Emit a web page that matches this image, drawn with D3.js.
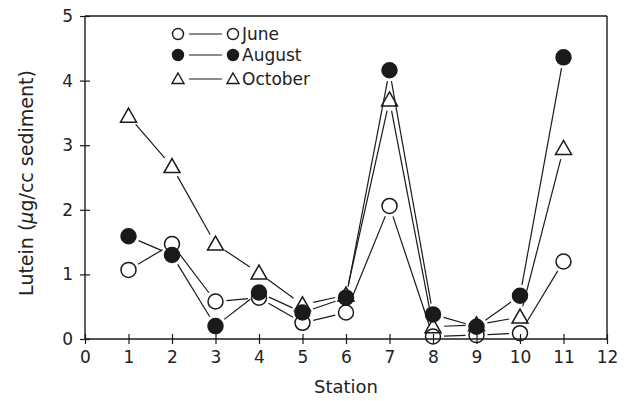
<!DOCTYPE html>
<html><head><meta charset="utf-8">
<script src="https://cdn.jsdelivr.net/npm/d3@7"></script>
<style>body{margin:0;background:#fff}svg{display:block}text{font-family:"DejaVu Sans",sans-serif;fill:#222}</style>
</head><body><svg id="c" width="634" height="401"></svg>
<script>
const stations = [1,2,3,4,5,6,7,8,9,10,11];
const june    = [1.07,1.47,0.58,0.64,0.25,0.41,2.06,0.04,0.06,0.09,1.20];
const august  = [1.59,1.30,0.20,0.72,0.41,0.64,4.16,0.38,0.19,0.67,4.36];
const october = [3.45,2.67,1.47,1.02,0.53,0.68,3.70,0.19,0.22,0.34,2.95];
const xTicks = [0,1,2,3,4,5,6,7,8,9,10,11,12];
const yTicks = [0,1,2,3,4,5];
const seriesNames = ["June","August","October"];

const svg = d3.select("#c");
const x = d3.scaleLinear().domain([0,12]).range([85,607]);
const y = d3.scaleLinear().domain([0,5]).range([339,16]);
const ink = "#1a1a1a";

// frame
svg.append("line").attr("x1",x(0)).attr("x2",x(12)).attr("y1",y(5)).attr("y2",y(5)).attr("stroke",ink).attr("stroke-width",1.4);
svg.append("line").attr("x1",x(12)).attr("x2",x(12)).attr("y1",y(5)).attr("y2",y(0)).attr("stroke",ink).attr("stroke-width",1.4);

const xAxis = svg.append("g").attr("transform",`translate(0,${y(0)})`)
  .call(d3.axisBottom(x).tickValues(xTicks).tickFormat(d3.format("d")).tickSize(5).tickSizeOuter(0));
xAxis.selectAll(".tick line").attr("stroke",ink).attr("y1",-5).attr("y2",5).attr("stroke-width",1.2);
xAxis.selectAll(".tick text").attr("y",12).attr("dy","0.71em").style("font-size","17px").attr("fill",ink);

const yAxis = svg.append("g").attr("transform",`translate(${x(0)},0)`)
  .call(d3.axisLeft(y).tickValues(yTicks).tickFormat(d3.format("d")).tickSize(5).tickSizeOuter(0));
yAxis.selectAll(".tick line").attr("stroke",ink).attr("x1",-5).attr("x2",5).attr("stroke-width",1.2);
yAxis.selectAll(".tick text").attr("x",-12).style("font-size","17px").attr("fill",ink);
svg.selectAll(".domain").remove();
svg.append("line").attr("x1",x(0)).attr("x2",x(12)).attr("y1",y(0)).attr("y2",y(0)).attr("stroke",ink).attr("stroke-width",1.4);
svg.append("line").attr("x1",x(0)).attr("x2",x(0)).attr("y1",y(0)).attr("y2",y(5)).attr("stroke",ink).attr("stroke-width",1.4);

svg.append("text").attr("x",346).attr("y",393).attr("text-anchor","middle").style("font-size","18px").text("Station");
const yl = svg.append("text").attr("transform","translate(33,183) rotate(-90)").attr("text-anchor","middle").style("font-size","19px");
yl.append("tspan").text("Lutein (");
yl.append("tspan").style("font-style","italic").text("μ");
yl.append("tspan").text("g/cc sediment)");

const R = 8;
function triPath(r){ const h=r*1.0; return `M0,${-h} L${r},${h*0.75} L${-r},${h*0.75} Z`; }

function drawSeries(vals, kind){
  const pts = stations.map((s,i)=>[x(s), y(vals[i])]);
  const g = svg.append("g");
  const gap = 11;
  for(let i=0;i<pts.length-1;i++){
    const [x1,y1]=pts[i],[x2,y2]=pts[i+1];
    const dx=x2-x1, dy=y2-y1, L=Math.hypot(dx,dy);
    if(L<=2*gap) continue;
    const ux=dx/L, uy=dy/L;
    g.append("line").attr("x1",x1+ux*gap).attr("y1",y1+uy*gap).attr("x2",x2-ux*gap).attr("y2",y2-uy*gap)
      .attr("stroke",ink).attr("stroke-width",1.2);
  }
  pts.forEach(p=>{
    if(kind==="tri") g.append("path").attr("d",triPath(R)).attr("transform",`translate(${p[0]},${p[1]})`).attr("fill","none").attr("stroke",ink).attr("stroke-width",1.5);
    else g.append("circle").attr("cx",p[0]).attr("cy",p[1]).attr("r",R-0.5).attr("fill",kind==="filled"?ink:"none").attr("stroke",ink).attr("stroke-width",1.5);
  });
}
drawSeries(october,"tri");
drawSeries(june,"open");
drawSeries(august,"filled");

// legend
const legRows = [{n:seriesNames[0],k:"open",y:34},{n:seriesNames[1],k:"filled",y:55},{n:seriesNames[2],k:"tri",y:79}];
const lr = 5.5;
legRows.forEach(r=>{
  [178,233].forEach(cx=>{
    if(r.k==="tri") svg.append("path").attr("d",triPath(lr+0.5)).attr("transform",`translate(${cx},${r.y})`).attr("fill","none").attr("stroke",ink).attr("stroke-width",1.4);
    else svg.append("circle").attr("cx",cx).attr("cy",r.y).attr("r",lr).attr("fill",r.k==="filled"?ink:"none").attr("stroke",ink).attr("stroke-width",1.4);
  });
  svg.append("line").attr("x1",189).attr("x2",222).attr("y1",r.y).attr("y2",r.y).attr("stroke",ink).attr("stroke-width",1.2);
  svg.append("text").attr("x",242).attr("y",r.y).attr("dy","0.36em").style("font-size","17px").text(r.n);
});
</script></body></html>
